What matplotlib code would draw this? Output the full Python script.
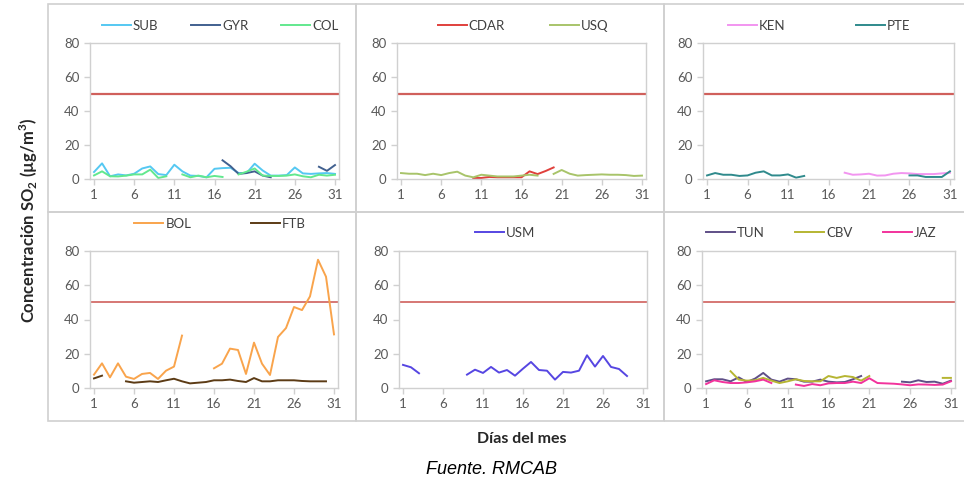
import matplotlib.pyplot as plt
import numpy as np
from matplotlib.patches import Rectangle

nan = np.nan

# Days of the month
days = list(range(1, 32))
xtick_days = [1, 6, 11, 16, 21, 26, 31]
limit = 50

# Daily SO2 values per station (ug/m3)
SUB = [4.1, 9.2, 1.6, 2.7, 2.1, 3.1, 6.2, 7.4, 2.9, 2.3, 8.4, 4.5, 2.0, 1.8, 1.0, 6.0,
       6.4, 6.6, 3.5, 3.5, 9.0, 5.0, 2.0, 2.0, 2.3, 6.8, 3.3, 3.0, 3.3, 3.5, 3.0]
GYR = [nan] * 16 + [11.0, 7.5, 3.0, 3.5, 4.5, 2.0, 1.0] + [nan] * 5 + [7.2, 4.8, 8.2]
COL = [2.1, 4.5, 1.6, 1.5, 2.0, 2.7, 2.7, 5.5, 0.6, 1.6, nan, 2.7, 1.0, 2.0, 1.0, 1.8,
       1.2, nan, 2.7, 4.3, 6.2, 2.0, 1.8, 1.8, 2.0, 2.7, 1.6, 1.0, 2.5, 2.0, 2.5]

CDAR = [nan] * 9 + [0.6, 0.6, 1.2, 1.0, 1.0, 1.0, 1.0, 4.5, 2.9, 4.7, 6.8] + [nan] * 11
USQ = [3.5, 3.1, 3.1, 2.3, 3.1, 2.3, 3.5, 4.3, 2.0, 1.0, 2.5, 2.0, 1.5, 1.5, 1.5, 2.0,
       2.5, 2.0, nan, 3.0, 5.3, 3.1, 2.0, 2.3, 2.5, 2.7, 2.5, 2.5, 2.3, 1.8, 2.0]

KEN = [nan] * 17 + [3.7, 2.5, 2.7, 3.1, 2.0, 2.1, 3.1, 3.5, 3.3, 2.9, 2.9, 2.9, 3.3, 3.7]
PTE = [2.1, 3.5, 2.5, 2.5, 1.8, 2.1, 3.7, 4.5, 2.1, 2.1, 2.7, 0.8, 1.8] + [nan] * 12 + \
      [2.1, 2.1, 1.2, 1.2, 1.2, 4.5]

BOL = [7.8, 14.4, 6.2, 14.4, 6.6, 5.3, 8.2, 8.8, 5.3, 10.1, 12.5, 30.6, nan, nan, nan,
       11.5, 14.2, 23.0, 22.2, 8.2, 26.5, 14.2, 7.6, 29.8, 35.0, 47.3, 45.5, 53.5, 74.9,
       65.0, 31.3]
FTB = [5.6, 7.2, nan, nan, 3.9, 3.1, 3.5, 3.9, 3.5, 4.5, 5.4, 3.9, 2.7, 3.1, 3.5, 4.5,
       4.5, 4.9, 4.1, 3.5, 5.8, 3.9, 3.9, 4.5, 4.5, 4.5, 4.1, 3.9, 3.9, 3.9, nan]

USM = [13.5, 12.1, 8.6, nan, nan, nan, nan, nan, 7.8, 10.7, 8.8, 12.3, 9.0, 10.5, 7.2,
       11.3, 15.2, 10.5, 10.1, 4.9, 9.4, 9.0, 10.1, 19.1, 12.5, 18.7, 12.3, 11.1, 7.0,
       nan, nan]

TUN = [3.9, 5.1, 5.1, 3.9, 6.2, 3.5, 5.5, 8.8, 4.9, 3.7, 5.5, 5.1, 3.7, 3.7, 4.9, 3.7,
       3.3, 3.5, 5.1, 7.0, nan, nan, nan, nan, 3.7, 3.3, 4.5, 3.5, 3.7, 2.5, 4.3]
CBV = [nan, nan, nan, 9.8, 4.9, 4.3, 4.5, 5.9, 4.3, 2.9, 3.9, 5.1, 4.1, 3.9, 3.9, 7.0,
       5.9, 7.0, 6.4, 4.3, 7.0] + [nan] * 8 + [5.9, 5.9]
JAZ = [2.3, 4.5, 3.5, 2.9, 2.9, 3.3, 3.9, 4.9, 2.9, nan, nan, 2.0, 1.2, 2.3, 1.6, 2.7,
       2.9, 2.9, 3.7, 2.9, 5.7, 2.9, 2.7, 2.5, 2.1, 1.6, 2.1, 2.0, 1.8, 2.0, 3.9]

plt.rcParams['font.family'] = ['Lato', 'DejaVu Sans']
plt.rcParams['mathtext.fontset'] = 'custom'
plt.rcParams['mathtext.bf'] = 'Lato:bold'
plt.rcParams['mathtext.rm'] = 'Lato'

fig = plt.figure(figsize=(9.64, 4.83), dpi=100)
W, H = 964, 483

grid = '#D0D0D0'
tick_col = '#595959'

# Panel frames (pixel coordinates from the picture)
for (x0, y0, x1, y1) in [(48, 4, 356, 212), (356, 4, 664, 212), (664, 4, 970, 212),
                         (48, 212, 356, 421), (356, 212, 664, 421), (664, 212, 970, 421)]:
    fig.add_artist(Rectangle((x0 / W, 1 - y1 / H), (x1 - x0) / W, (y1 - y0) / H,
                             transform=fig.transFigure, fill=False,
                             edgecolor=grid, linewidth=1.2))

# (axes box in px, series, legend centre in px, column spacing)
panels = [
    ((90, 43, 339, 179), [('SUB', SUB, '#55C8F2'), ('GYR', GYR, '#41608F'),
                          ('COL', COL, '#62E88E')], (220, 26), 2.5),
    ((397, 43, 646, 179), [('CDAR', CDAR, '#E0403C'), ('USQ', USQ, '#A8C46A')],
     (523, 26), 3.4),
    ((703, 43, 954, 179), [('KEN', KEN, '#F295F0'), ('PTE', PTE, '#2F8A8C')],
     (819, 26), 5.3),
    ((90, 251, 338, 388), [('BOL', BOL, '#F9A44C'), ('FTB', FTB, '#5C3B15')],
     (220, 224), 4.5),
    ((399, 251, 647, 388), [('USM', USM, '#5646E2')], (505, 233), 2.0),
    ((702, 251, 955, 388), [('TUN', TUN, '#5F4F87'), ('CBV', CBV, '#B6B532'),
                            ('JAZ', JAZ, '#F2339C')], (821, 233), 2.3),
]

for i, (box, series, leg_xy, colsp) in enumerate(panels):
    x0, y0, x1, y1 = box
    ax = fig.add_axes([x0 / W, 1 - y1 / H, (x1 - x0) / W, (y1 - y0) / H])
    handles = []
    for name, vals, col in series:
        h, = ax.plot(days, vals, color=col, linewidth=1.4, label=name)
        handles.append(h)
    ax.axhline(limit, color='#D0605C', linewidth=1.6 if i < 3 else 1.2, zorder=1)
    ax.set_xlim(0.5, 31.5)
    ax.set_ylim(0, 80)
    ax.set_xticks(xtick_days)
    ax.set_yticks([0, 20, 40, 60, 80])
    for s in ax.spines.values():
        s.set_color(grid)
        s.set_linewidth(1.0)
    ax.tick_params(colors=grid, labelcolor=tick_col, labelsize=9.5, length=4, width=1)
    fig.legend(handles=handles, loc='center', ncol=len(handles),
               bbox_to_anchor=(leg_xy[0] / W, 1 - leg_xy[1] / H),
               frameon=False, fontsize=9.5, handlelength=2.2, handletextpad=0.15,
               columnspacing=colsp, labelcolor='#404040')

fig.text(29 / W, 1 - 220 / H, r'Concentración SO$_\mathbf{2}$ (µg/m$^\mathbf{3}$)',
         rotation=90, ha='center', va='center', fontsize=12, fontweight='bold',
         color='#262626')
fig.text(522 / W, 1 - 439 / H, 'Días del mes', ha='center', va='center',
         fontsize=11.5, fontweight='bold', color='#262626')
fig.text(492 / W, 1 - 470 / H, 'Fuente. RMCAB', ha='center', va='center',
         fontsize=13, style='italic', family='Liberation Sans', color='black')

fig.savefig('out.png', dpi=100)
